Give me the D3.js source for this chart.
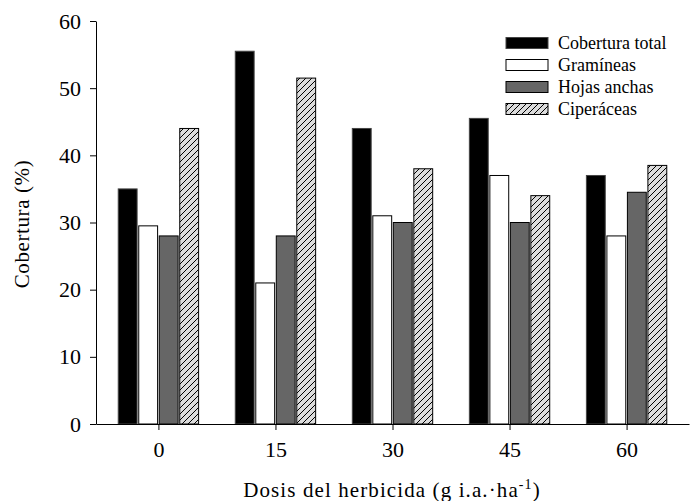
<!DOCTYPE html>
<meta charset="utf-8">
<html>
<head>
<style>
  body { margin: 0; background: #fff; }
  svg text { font-family: "Liberation Serif", "Times New Roman", serif; fill: #000; }
</style>
</head>
<body>
<div id="chart"></div>
<script src="https://d3js.org/d3.v7.min.js"></script>
<script>
// herbicide dose vs cover, four series per dose
var doses = [0, 15, 30, 45, 60];
var seriesNames = ["Cobertura total", "Gramíneas", "Hojas anchas", "Ciperáceas"];
var coberturaTotal = [35, 55.5, 44, 45.5, 37];
var gramineas = [29.5, 21, 31, 37, 28];
var hojasAnchas = [28, 28, 30, 30, 34.5];
var ciperaceas = [44, 51.5, 38, 34, 38.5];
var yTicks = [0, 10, 20, 30, 40, 50, 60];

var seriesValues = [coberturaTotal, gramineas, hojasAnchas, ciperaceas];
var fills = ["#000", "#fff", "#666", "url(#hatch)"];

var width = 692, height = 501;

var svg = d3.select("#chart")
  .append("svg")
    .attr("width", width)
    .attr("height", height)
    .attr("font-family", "Liberation Serif");

// diagonal hatch for Ciperáceas
var pat = svg.append("defs").append("pattern")
    .attr("id", "hatch")
    .attr("patternUnits", "userSpaceOnUse")
    .attr("width", 6)
    .attr("height", 6);
pat.append("rect")
    .attr("width", 6).attr("height", 6)
    .attr("fill", "#dcdcdc");
pat.append("path")
    .attr("d", "M-1,1 L1,-1 M0,6 L6,0 M5,7 L7,5")
    .attr("stroke", "#000")
    .attr("stroke-width", 1);

var x = d3.scaleLinear()
  .domain([-8, 68])
  .range([96, 689]);

var y = d3.scaleLinear()
  .domain([0, 60])
  .range([424, 21]);

// bars
var halfGroup = x(5.15) - x(0);
function inner(d) {
  return d3.scaleBand().domain(seriesNames)
    .range([x(d) - halfGroup, x(d) + halfGroup]).paddingInner(0.08);
}
seriesValues.forEach(function(vals, si) {
  svg.append("g")
    .selectAll("rect")
    .data(doses)
    .enter()
    .append("rect")
      .attr("x", function(d) { return inner(d)(seriesNames[si]); })
      .attr("width", function(d) { return inner(d).bandwidth(); })
      .attr("y", function(d, i) { return y(vals[i]); })
      .attr("height", function(d, i) { return y(0) - y(vals[i]); })
      .attr("fill", fills[si])
      .attr("stroke", si == 0 ? "#444" : "#000")
      .attr("stroke-width", 1);
});

// axes
var xAxis = svg.append("g")
  .attr("transform", "translate(0," + y(0) + ")")
  .call(d3.axisBottom(x).tickValues(doses).tickSize(6).tickSizeOuter(0).tickPadding(11));
var yAxis = svg.append("g")
  .attr("transform", "translate(" + x(-8) + ",0)")
  .call(d3.axisLeft(y).tickValues(yTicks).tickSize(6).tickSizeOuter(0).tickPadding(9));

svg.selectAll("g").attr("font-family", null);
svg.selectAll(".tick text")
  .attr("font-family", "Liberation Serif")
  .attr("font-size", "22px");
svg.selectAll(".domain, .tick line").attr("stroke", "#000");

// axis titles
svg.append("text")
  .attr("transform", "rotate(-90)")
  .attr("x", -224)
  .attr("y", 29)
  .attr("text-anchor", "middle")
  .attr("font-size", "21px")
  .attr("letter-spacing", "0.6px")
  .text("Cobertura (%)");

var xl = svg.append("text")
  .attr("x", 392)
  .attr("y", 497)
  .attr("text-anchor", "middle")
  .attr("font-size", "21px")
  .attr("letter-spacing", "1.1px");
xl.append("tspan").text("Dosis del herbicida (g i.a.·ha");
xl.append("tspan").attr("dy", -8).attr("font-size", "14px").text("-1");
xl.append("tspan").attr("dy", 8).text(")");

// legend
var legend = svg.append("g");
seriesNames.forEach(function(name, i) {
  var cy = 43 + i * 22;
  legend.append("rect")
    .attr("x", 506).attr("y", cy - 5.5)
    .attr("width", 42).attr("height", 11)
    .attr("fill", fills[i])
    .attr("stroke", i == 0 ? "#444" : "#000")
    .attr("stroke-width", 1);
  legend.append("text")
    .attr("x", 558).attr("y", cy + 5.5)
    .attr("font-size", "18px")
    .text(name);
});
</script>
</body>
</html>
